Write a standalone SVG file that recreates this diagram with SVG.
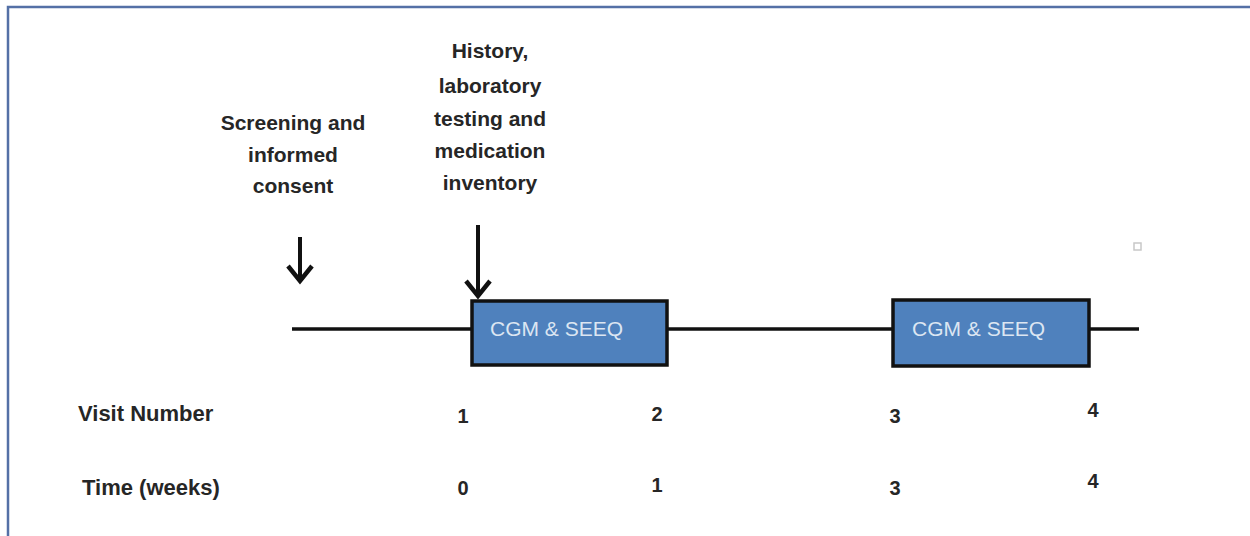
<svg xmlns="http://www.w3.org/2000/svg" width="1250" height="536" viewBox="0 0 1250 536">
<style>
.lbl{font-family:"Liberation Sans",Arial,sans-serif;font-weight:bold;font-size:21px;fill:#262626;text-anchor:middle}
.row{font-family:"Liberation Sans",Arial,sans-serif;font-weight:bold;font-size:22px;fill:#262626}
.num{font-family:"Liberation Sans",Arial,sans-serif;font-weight:bold;font-size:20px;fill:#262626;text-anchor:middle}
.box{fill:#4f81bd;stroke:#111;stroke-width:3.5}
.btxt{font-family:"Liberation Sans",Arial,sans-serif;font-size:21px;fill:#dce6f2}
.line{stroke:#111;stroke-width:3.5;fill:none}
.arrow{stroke:#111;stroke-width:4;fill:none}
</style>
<defs>
<marker id="arr" markerWidth="30" markerHeight="30" refX="0" refY="0" orient="auto" markerUnits="userSpaceOnUse" overflow="visible">
<path d="M-15,-12 L0,0 L-15,12" fill="none" stroke="#111" stroke-width="4.5"/>
</marker>
</defs>
<rect x="0" y="0" width="1250" height="536" fill="#fff"/>
<path d="M8,536 V7 H1250" fill="none" stroke="#5470a6" stroke-width="2.5"/>
<g id="connectors">
<line class="line" x1="292" y1="329" x2="472" y2="329"/>
<line class="line" x1="667" y1="329" x2="893" y2="329"/>
<line class="line" x1="1089" y1="329" x2="1139" y2="329"/>
<line class="arrow" x1="300" y1="237" x2="300" y2="281" marker-end="url(#arr)"/>
<line class="arrow" x1="478" y1="225" x2="478" y2="296" marker-end="url(#arr)"/>
</g>
<g id="screening">
<text class="lbl" x="293" y="130">Screening and</text>
<text class="lbl" x="293" y="162">informed</text>
<text class="lbl" x="293" y="193">consent</text>
</g>
<g id="history">
<text class="lbl" x="490" y="58">History,</text>
<text class="lbl" x="490" y="93">laboratory</text>
<text class="lbl" x="490" y="126">testing and</text>
<text class="lbl" x="490" y="158">medication</text>
<text class="lbl" x="490" y="190">inventory</text>
</g>
<g id="cgm1">
<rect class="box" x="472" y="301" width="195" height="64"/>
<text class="btxt" x="490" y="336">CGM &amp; SEEQ</text>
</g>
<g id="cgm2">
<rect class="box" x="893" y="300" width="196" height="66"/>
<text class="btxt" x="912" y="336">CGM &amp; SEEQ</text>
</g>
<rect id="marker-square" x="1134" y="243" width="7" height="7" fill="none" stroke="#c8c8c8" stroke-width="1.5"/>
<g id="visit-row">
<text class="row" x="78" y="421">Visit Number</text>
<text class="num" x="463" y="423">1</text>
<text class="num" x="657" y="421">2</text>
<text class="num" x="895" y="423">3</text>
<text class="num" x="1093" y="417">4</text>
</g>
<g id="time-row">
<text class="row" x="82" y="495">Time (weeks)</text>
<text class="num" x="463" y="495">0</text>
<text class="num" x="657" y="492">1</text>
<text class="num" x="895" y="495">3</text>
<text class="num" x="1093" y="488">4</text>
</g>
</svg>
